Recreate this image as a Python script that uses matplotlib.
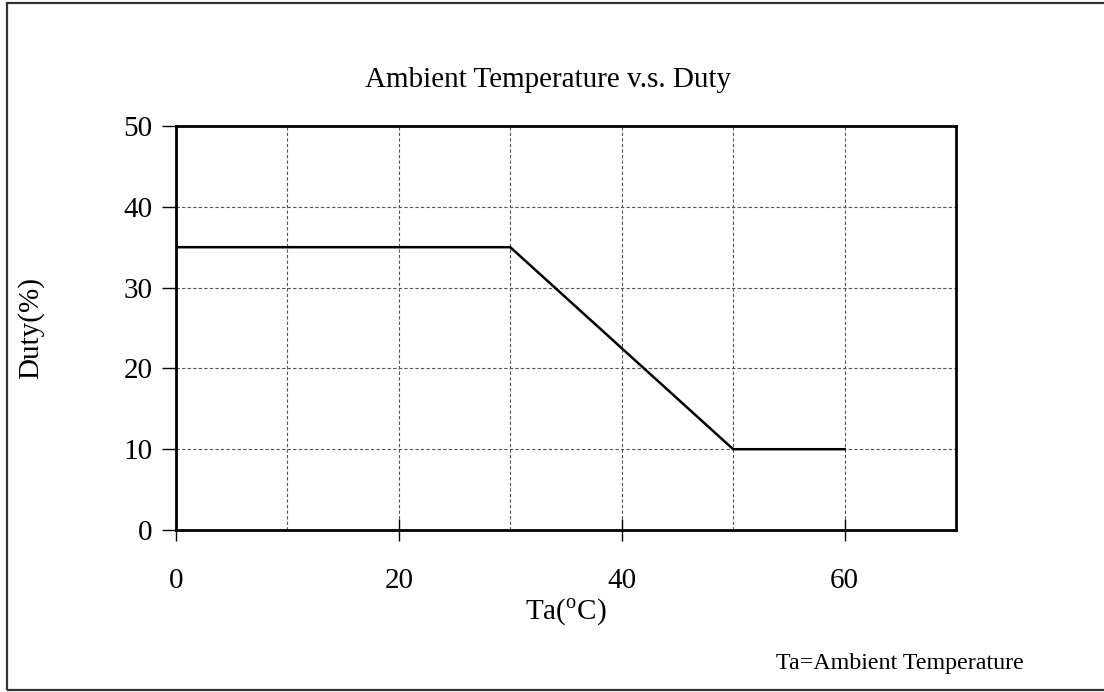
import matplotlib
matplotlib.use("Agg")
import matplotlib.pyplot as plt
from matplotlib.patches import Rectangle
from matplotlib.ticker import MultipleLocator

# Data
temp = [0, 30, 50, 60]
duty = [35, 35, 10, 10]
x_ticks = [0, 20, 40, 60]
y_ticks = [0, 10, 20, 30, 40, 50]

plt.rcParams['font.family'] = ['Liberation Serif', 'DejaVu Serif']
plt.rcParams['mathtext.fontset'] = 'custom'
plt.rcParams['mathtext.rm'] = 'Liberation Serif'

W, H = 1104, 692
fig = plt.figure(figsize=(W / 100, H / 100), dpi=100)
ax = fig.add_axes([176 / W, 1 - 530 / H, (956 - 176) / W, (530 - 126) / H])

ax.plot(temp, duty, color='black', lw=1.8, zorder=3)

ax.set_xlim(0, 70)
ax.set_ylim(0, 50)
ax.set_xticks(x_ticks)
ax.set_yticks(y_ticks)
ax.xaxis.set_minor_locator(MultipleLocator(10))
ax.tick_params(axis='x', which='major', direction='inout', length=16, width=1.0,
               labelsize=21, pad=19, colors='black')
ax.tick_params(axis='x', which='minor', length=0)
ax.tick_params(axis='y', which='major', direction='out', length=10, width=1.0,
               labelsize=21, pad=7)
ax.grid(True, which='both', axis='x', color='#555555', lw=0.8, ls=(0, (3, 2)))
ax.grid(True, which='major', axis='y', color='#555555', lw=0.8, ls=(0, (3, 2)))
for s in ax.spines.values():
    s.set_linewidth(2.0)
    s.set_zorder(4)

fig.text(566 / W, 1 - 612 / H, r'Ta($^{\mathrm{o}}$C)', fontsize=21,
         ha='center', va='center')
fig.text(31 / W, 1 - 328 / H, 'Duty(%)', fontsize=21, rotation=90,
         ha='center', va='center')
fig.text(548 / W, 1 - 80 / H, 'Ambient Temperature v.s. Duty', fontsize=21,
         ha='center', va='center')
fig.text(1024 / W, 1 - 663 / H, 'Ta=Ambient Temperature', fontsize=17.3,
         ha='right', va='center')

border = Rectangle((6.5 / W, 1 - 690 / H), 1.2, (690 - 3) / H, transform=fig.transFigure,
                   fill=False, edgecolor='#333333', lw=1.6, clip_on=False)
fig.patches.append(border)

fig.savefig('out.png', dpi=100)
